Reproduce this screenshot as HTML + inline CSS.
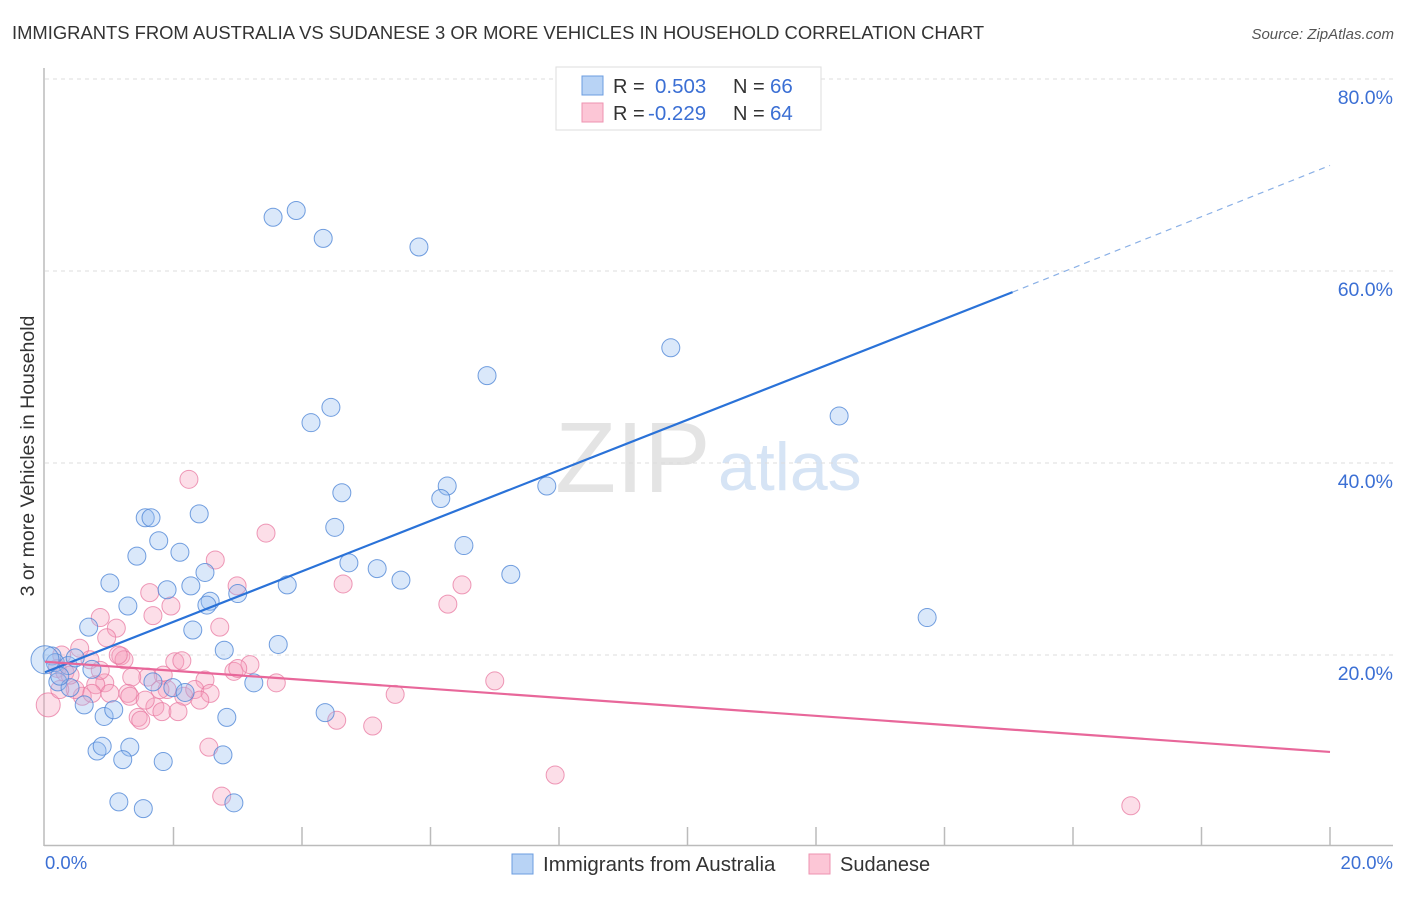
<!DOCTYPE html>
<html><head><meta charset="utf-8">
<style>
body{margin:0;background:#fff;font-family:"Liberation Sans",sans-serif;}
svg text{font-family:"Liberation Sans",sans-serif;}
</style></head>
<body>
<svg id="chart" width="1406" height="892" xmlns="http://www.w3.org/2000/svg">
<text x="12" y="39" font-size="18.4" fill="#333">IMMIGRANTS FROM AUSTRALIA VS SUDANESE 3 OR MORE VEHICLES IN HOUSEHOLD CORRELATION CHART</text>
<text x="1394" y="39" font-size="15" fill="#555" font-style="italic" text-anchor="end">Source: ZipAtlas.com</text>
<g>
<text x="555" y="492" font-size="100" fill="#e4e4e4" font-family="Liberation Serif,serif">ZIP</text>
<text x="718" y="490" font-size="68" fill="#d6e4f5">atlas</text>
</g>
<g id="grid"></g>
<line x1="44" y1="68" x2="44" y2="846" stroke="#bbb" stroke-width="1.5"/>
<line x1="44" y1="845.5" x2="1393" y2="845.5" stroke="#bbb" stroke-width="1.5"/>
<g id="xticks"></g>
<g id="ylabels"></g>
<text x="45" y="869" font-size="18.5" fill="#3b6fd4">0.0%</text>
<text x="1393" y="869" font-size="18.5" fill="#3b6fd4" text-anchor="end">20.0%</text>
<text transform="translate(34,456) rotate(-90)" font-size="19.5" fill="#333" text-anchor="middle">3 or more Vehicles in Household</text>
<g id="pts"></g>
<g id="lines"></g>
<g>
<rect x="556" y="67" width="265" height="63" fill="#fff" stroke="#ddd"/>
<rect x="582" y="76" width="21" height="19" fill="#b8d3f5" stroke="#6b9de0"/>
<rect x="582" y="103" width="21" height="19" fill="#fcc6d6" stroke="#ee93b0"/>
<text x="613" y="93" font-size="20" fill="#333">R = </text>
<text x="655" y="93" font-size="20.5" fill="#3b6fd4">0.503</text>
<text x="733" y="93" font-size="20" fill="#333">N = </text>
<text x="770" y="93" font-size="20.5" fill="#3b6fd4">66</text>
<text x="613" y="120" font-size="20" fill="#333">R = </text>
<text x="648" y="120" font-size="20.5" fill="#3b6fd4">-0.229</text>
<text x="733" y="120" font-size="20" fill="#333">N = </text>
<text x="770" y="120" font-size="20.5" fill="#3b6fd4">64</text>
</g>
<g>
<rect x="512" y="854" width="21" height="20" fill="#b8d3f5" stroke="#6b9de0"/>
<text x="543" y="871" font-size="20.5" fill="#333">Immigrants from Australia</text>
<rect x="809" y="854" width="21" height="20" fill="#fcc6d6" stroke="#ee93b0"/>
<text x="840" y="871" font-size="20" fill="#333">Sudanese</text>
</g>
</svg>
<script>
const blueX=[3.55,3.91,4.33,5.82,9.74,6.88,12.36,4.45,4.14,4.62,6.26,6.16,7.81,4.51,6.52,4.73,5.17,5.54,7.25,3.77,13.73,3.63,1.56,1.65,2.40,1.77,2.10,1.43,1.01,1.90,2.27,2.49,3.00,2.57,2.52,1.29,2.30,0.68,2.79,0.11,0.16,0.36,0.73,1.68,1.99,2.18,3.25,4.36,2.83,0.92,1.07,0.61,0.20,0.39,1.32,0.81,0.89,1.21,1.84,2.77,1.15,1.53,2.94,0.47,0.23,0.0];
const blueY=[65.6,66.3,63.4,62.5,52.0,49.1,44.9,45.8,44.2,36.9,37.6,36.3,37.6,33.3,31.4,29.6,29.0,27.8,28.4,27.3,23.9,21.1,34.3,34.3,34.7,31.9,30.7,30.3,27.5,26.8,27.2,28.6,26.4,25.6,25.2,25.1,22.6,22.9,20.5,19.9,19.2,18.9,18.5,17.2,16.6,16.1,17.1,14.0,13.5,13.6,14.3,14.8,17.2,16.6,10.4,10.0,10.5,9.1,8.9,9.6,4.7,4.0,4.6,19.7,17.8,19.5];
const pinkX=[2.24,3.44,2.65,2.99,4.64,6.49,6.27,1.63,1.68,1.96,0.86,1.11,0.96,1.18,1.23,2.72,0.54,0.26,0.70,2.02,2.13,3.19,2.94,1.84,1.60,1.35,0.93,0.79,2.49,3.60,5.45,7.00,1.90,2.16,2.33,1.29,1.01,1.71,1.82,2.07,1.45,1.49,0.58,0.47,4.54,5.10,2.55,7.94,2.75,16.90,0.05,0.23,0.19,1.14,0.31,2.57,3.00,1.32,0.86,0.39,0.73,1.56,1.79,2.41];
const pinkY=[38.3,32.7,29.9,27.2,27.4,27.3,25.3,26.5,24.1,25.1,23.9,22.8,21.8,19.9,19.5,22.9,20.7,20.0,19.5,19.3,19.4,19.0,18.3,17.9,17.7,17.7,17.1,16.9,17.4,17.1,15.9,17.3,16.4,15.7,16.4,16.0,16.0,14.6,14.1,14.1,13.5,13.2,15.7,16.4,13.2,12.6,10.4,7.5,5.3,4.3,14.8,16.4,18.6,20.0,18.2,16.0,18.6,15.7,18.4,17.9,16.0,15.3,16.4,15.3];
const yTicks=[20,40,60,80];
const yTickLabels=["20.0%","40.0%","60.0%","80.0%"];
const xTicks=[2,4,6,8,10,12,14,16,18,20];
const blueFit=[[0,18.2],[15.06,57.8],[20,71.0]];
const pinkFit=[[0,19.3],[20,9.9]];
const NS="http://www.w3.org/2000/svg";
const sx=v=>45+v/20*1285, sy=v=>847-v/20*192;
function mk(t,a,p){const e=document.createElementNS(NS,t);for(const k in a)e.setAttribute(k,a[k]);p.appendChild(e);return e;}
const grid=document.getElementById('grid'),yl=document.getElementById('ylabels'),xt=document.getElementById('xticks');
yTicks.forEach((v,i)=>{
 const l=mk('line',{x1:45,x2:1393,y1:sy(v),y2:sy(v),stroke:'#ddd','stroke-dasharray':'4,4'},grid);
 
 
 const t=mk('text',{x:1393,y:sy(v)+25,'font-size':19.5,fill:'#3b6fd4','text-anchor':'end'},yl);
 t.textContent=yTickLabels[i];
 
 
});
xTicks.forEach(v=>{
 const l=mk('line',{x1:sx(v),x2:sx(v),y1:827,y2:846,stroke:'#bbb','stroke-width':1.5},xt);
 
 
});
const pts=document.getElementById('pts');
pinkX.forEach((x,i)=>{
 const c=mk('circle',{cx:sx(x),cy:sy(pinkY[i]),r:(i==50?12:9),fill:'rgba(245,160,190,0.35)',stroke:'rgba(232,120,160,0.75)','stroke-width':1},pts);
 
 
});
blueX.forEach((x,i)=>{
 const c=mk('circle',{cx:sx(x),cy:sy(blueY[i]),r:(i==65?14:9),fill:'rgba(150,190,240,0.35)',stroke:'rgba(80,135,215,0.8)','stroke-width':1},pts);
 
 
});
const lg=document.getElementById('lines');
const b1=mk('line',{x1:sx(blueFit[0][0]),y1:sy(blueFit[0][1]),x2:sx(blueFit[1][0]),y2:sy(blueFit[1][1]),stroke:'#2a72d8','stroke-width':2.2},lg);


const b2=mk('line',{x1:sx(blueFit[1][0]),y1:sy(blueFit[1][1]),x2:sx(blueFit[2][0]),y2:sy(blueFit[2][1]),stroke:'#8ab0e6','stroke-width':1.2,'stroke-dasharray':'6,5'},lg);


const p1=mk('line',{x1:sx(pinkFit[0][0]),y1:sy(pinkFit[0][1]),x2:sx(pinkFit[1][0]),y2:sy(pinkFit[1][1]),stroke:'#e8679a','stroke-width':2.2},lg);


</script>
</body></html>
